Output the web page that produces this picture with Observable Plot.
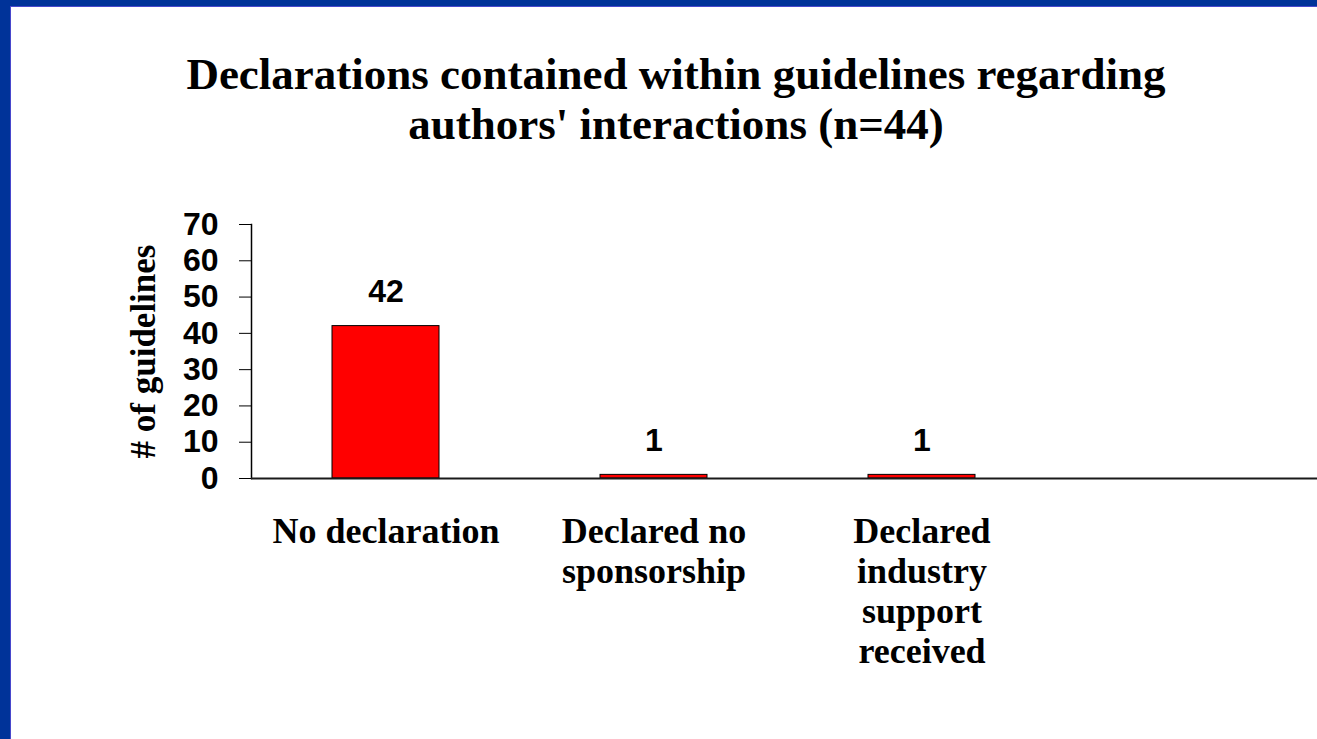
<!DOCTYPE html>
<html>
<head>
<meta charset="utf-8">
<script src="https://cdn.jsdelivr.net/npm/d3@7"></script>
<script src="https://cdn.jsdelivr.net/npm/@observablehq/plot@0.6"></script>
<style>
  html, body { margin: 0; padding: 0; background: #ffffff; }
  #frame {
    position: absolute; left: 0; top: 0;
    width: 1307px; height: 733px;
    border-left: 10px solid #003399; border-top: 6px solid #003399;
    background: #ffffff;
  }
  #inner {
    width: 1306px; height: 732px;
    border-left: 1px solid #4848cc; border-top: 1px solid #4848cc;
    position: relative; overflow: hidden;
  }
  #title {
    position: absolute; left: 0; top: 0; width: 1306px;
    padding-left: 24px; box-sizing: border-box;
    text-align: center;
    font-family: "Liberation Serif", "Times New Roman", serif;
    font-weight: bold; font-size: 45px; line-height: 50px;
    padding-top: 42px; color: #000;
  }
  #chart { position: absolute; left: 0; top: 163px; }
</style>
</head>
<body>
<div id="frame"><div id="inner">
  <div id="title">Declarations contained within guidelines regarding<br>authors' interactions (n=44)</div>
  <div id="chart"></div>
</div></div>
<script>
const categories = ["No declaration", "Declared no\nsponsorship", "Declared\nindustry\nsupport\nreceived"];
const values = [42, 1, 1];
const emptySlot = "";
const yTicks = [0, 10, 20, 30, 40, 50, 60, 70];
const yLabel = "# of guidelines";

const data = categories.map((c, i) => ({category: c, value: values[i]}));

const serif = "'Liberation Serif', 'Times New Roman', serif";
const sans = "'Liberation Sans', Arial, sans-serif";

const chart = Plot.plot({
  width: 1306,
  height: 569,
  marginLeft: 240,
  marginRight: -8,
  marginTop: 54,
  marginBottom: 261,
  style: {background: "transparent", overflow: "visible"},
  x: {domain: [...categories, emptySlot], paddingInner: 0.6, paddingOuter: 0.3},
  y: {domain: [0, 70]},
  marks: [
    Plot.axisY({
      ticks: yTicks, tickSize: 12, tickPadding: 21,
      fontFamily: sans, fontWeight: "bold", fontSize: 32,
      stroke: "#000", color: "#000",
      label: null
    }),
    Plot.text([yLabel], {
      frameAnchor: "left", dx: -108, rotate: -90,
      textAnchor: "middle", lineAnchor: "middle",
      fontFamily: serif, fontWeight: "bold", fontSize: 35, fill: "#000"
    }),
    Plot.axisX({
      tickSize: 0, tickPadding: 36,
      fontFamily: serif, fontWeight: "bold", fontSize: 36,
      lineHeight: 1.11, color: "#000",
      tickFormat: d => d, label: null
    }),
    Plot.barY(data, {x: "category", y: "value", fill: "#ff0000", stroke: "#000", strokeWidth: 1}),
    Plot.frame({anchor: "left", stroke: "#000", strokeWidth: 1.5}),
    Plot.ruleY([0], {stroke: "#1a1a1a", strokeWidth: 2}),
    Plot.text(data, {
      x: "category", y: "value", text: d => String(d.value),
      lineAnchor: "bottom", dy: -24,
      fontFamily: sans, fontWeight: "bold", fontSize: 32, fill: "#000"
    })
  ]
});
document.getElementById("chart").appendChild(chart);
</script>
</body>
</html>
